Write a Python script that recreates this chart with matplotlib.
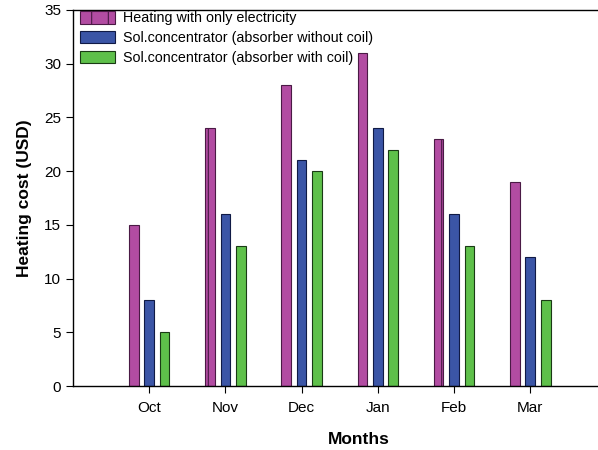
import matplotlib
matplotlib.use("Agg")
import matplotlib.pyplot as plt
import numpy as np

plt.rcParams['font.family'] = ['Liberation Sans', 'DejaVu Sans']
plt.rcParams['hatch.linewidth'] = 0.8

months = ["Oct", "Nov", "Dec", "Jan", "Feb", "Mar"]
electricity_only = [15, 24, 28, 31, 23, 19]
absorber_without_coil = [8, 16, 21, 24, 16, 12]
absorber_with_coil = [5, 13, 20, 22, 13, 8]

series_labels = [
    "Heating with only electricity",
    "Sol.concentrator (absorber without coil)",
    "Sol.concentrator (absorber with coil)",
]

fig = plt.figure(figsize=(5.98, 4.5), dpi=100)
# plot area runs past the right edge of the figure
ax = fig.add_axes([0.122, 0.142, 0.956, 0.836])

x = np.arange(1, len(months) + 1)
width = 0.127
offset = 0.203

ax.bar(x - offset, electricity_only, width, color="#B24CA2", edgecolor="#4a1a45",
       linewidth=0.8, hatch="|", label=series_labels[0])
ax.bar(x, absorber_without_coil, width, color="#3B55A6", edgecolor="#101a45",
       linewidth=0.8, label=series_labels[1])
ax.bar(x + offset, absorber_with_coil, width, color="#5EC04A", edgecolor="#1a3a15",
       linewidth=0.8, label=series_labels[2])

ax.set_xlim(0, 7.5)
ax.set_ylim(0, 35)
ax.set_yticks(range(0, 36, 5))
ax.set_xticks(x)
ax.set_xticklabels(months)
ax.tick_params(axis="both", labelsize=11, length=5, width=0.8, direction="out")
ax.tick_params(axis="x", pad=6)
ax.spines["right"].set_visible(False)
for s in ax.spines.values():
    s.set_linewidth(1.0)

ax.set_ylabel("Heating cost (USD)", fontsize=12.5, fontweight="bold", labelpad=9)
ax.set_xlabel("Months", fontsize=12.5, fontweight="bold", labelpad=12)

leg = ax.legend(loc="upper left", bbox_to_anchor=(0.133, 0.975),
                bbox_transform=fig.transFigure, frameon=False, fontsize=10.3,
                handlelength=2.45, handleheight=0.95, handletextpad=0.6,
                labelspacing=0.4, borderaxespad=0, borderpad=0)

fig.savefig("out.png", dpi=100)
